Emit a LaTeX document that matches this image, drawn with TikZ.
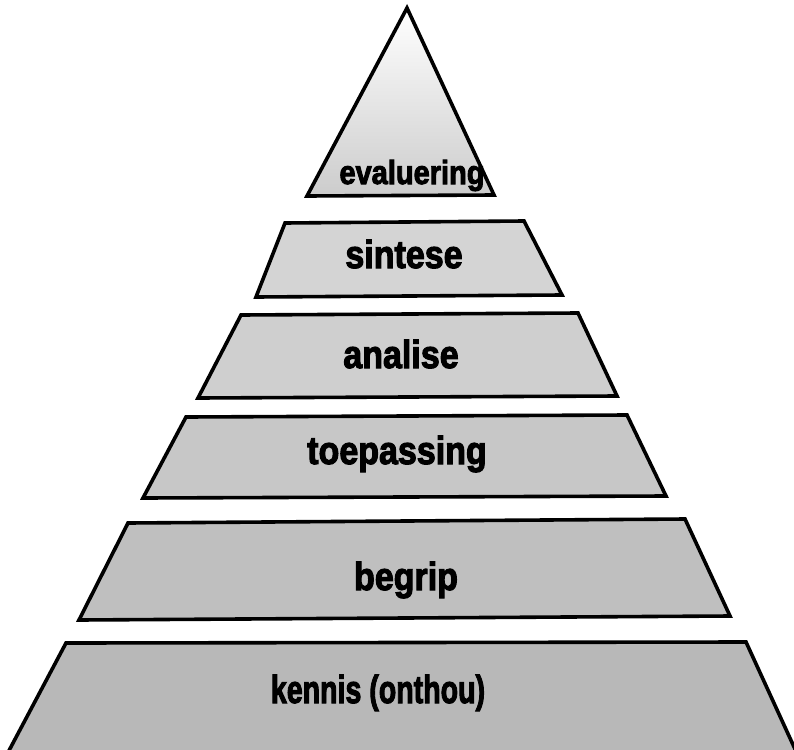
\documentclass[tikz,border=0pt]{standalone}
\usepackage{fontspec}
\newfontfamily\lab{Liberation Sans}[BoldFeatures={FakeBold=3}]
\newcommand{\tallbox}[2][1]{\scalebox{#1}[1.15]{#2}}
\begin{document}
\begin{tikzpicture}[x=1pt,y=-1pt,
  layer/.style={draw=black,line width=3.6pt,line join=miter},
  lbl/.style={font=\lab\bfseries\fontsize{34}{34}\selectfont,anchor=base,inner sep=0pt}]
\useasboundingbox (0,0) rectangle (794,749);
\begin{scope}
\clip (0,0) rectangle (794,749);
% top triangle
\shade[top color=white,bottom color=black!20] (407,8) -- (494,195) -- (307,196) -- cycle;
\draw[layer] (407,8) -- (494,195) -- (307,196) -- cycle;
% layers
\draw[layer,fill=black!17] (285,223) -- (524,221) -- (562,295) -- (256,297) -- cycle;
\draw[layer,fill=black!19] (241,315) -- (578,313) -- (617,396) -- (198,398) -- cycle;
\draw[layer,fill=black!22] (186,417) -- (627,415) -- (666,496) -- (143,498) -- cycle;
\draw[layer,fill=black!25] (128,523) -- (685,519) -- (730,616) -- (79,620) -- cycle;
\draw[layer,fill=black!28] (66,643) -- (746,642) -- (800,760) -- (4,760) -- cycle;
\end{scope}
\node[lbl,font=\lab\bfseries\fontsize{29}{29}\selectfont] (evaluering) at (412,184) {\tallbox{evaluering}};
\node[lbl] (sintese) at (404,268) {\tallbox{sintese}};
\node[lbl] (analise) at (401,368) {\tallbox{analise}};
\node[lbl] (toepassing) at (397,464) {\tallbox{toepassing}};
\node[lbl] (begrip) at (406,590) {\tallbox{begrip}};
\node[lbl] (kennis) at (378,703) {\tallbox[0.84]{kennis (onthou)}};
\end{tikzpicture}
\end{document}
